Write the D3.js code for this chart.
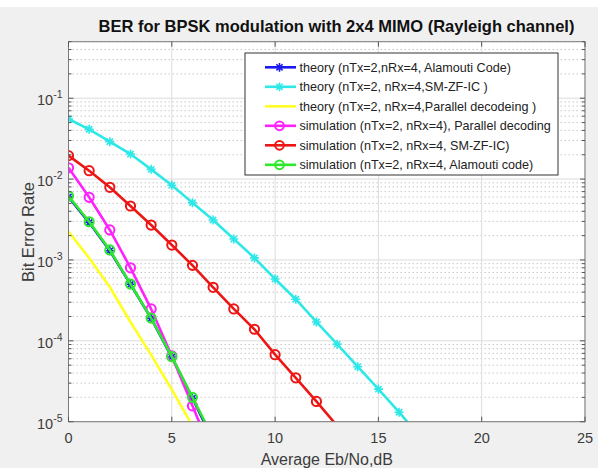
<!DOCTYPE html>
<html>
<head>
<meta charset="utf-8">
<script src="https://cdn.jsdelivr.net/npm/d3@7"></script>
<style>
  body { margin: 0; background: #f0f0f0; }
  svg { display: block; font-family: "Liberation Sans", Arial, sans-serif; }
</style>
</head>
<body>
<svg id="svg1" width="598" height="468"></svg>
<script>
// Eb/No points (dB)
var snrDb = [0, 1, 2, 3, 4, 5, 6, 7, 8, 9, 10, 11, 12, 13, 14, 15, 16, 17];

// BER curves, one value per dB starting at 0 dB
var theoryAlamouti = [0.0060, 0.0029, 0.00130, 5.0e-4, 1.9e-4, 6.3e-5, 1.95e-5, 5.8e-6];
var theoryZf = [0.0553, 0.0413, 0.0290, 0.0204, 0.0132, 0.00838, 0.00511, 0.00312, 0.00182,
    0.00106, 5.82e-4, 3.27e-4, 1.71e-4, 9.1e-5, 4.79e-5, 2.53e-5, 1.31e-5, 6.6e-6];
var theoryParallel = [2.24e-3, 1.06e-3, 4.63e-4, 1.71e-4, 6.7e-5, 2.5e-5, 8.9e-6];
var simParallel = [0.0138, 0.00595, 0.00235, 8.0e-4, 2.48e-4, 6.5e-5, 1.57e-5, 3.8e-6];
var simZf = [0.0195, 0.0127, 0.00792, 0.00465, 0.0027, 0.00153, 8.58e-4, 4.59e-4, 2.48e-4,
    1.39e-4, 6.74e-5, 3.49e-5, 1.78e-5, 8.9e-6];
var simAlamouti = [0.00618, 0.00297, 0.00133, 5.04e-4, 1.91e-4, 6.37e-5, 2.0e-5, 6.3e-6];

var legendLabels = [
    "theory (nTx=2,nRx=4, Alamouti Code)",
    "theory (nTx=2, nRx=4,SM-ZF-IC )",
    "theory (nTx=2, nRx=4,Parallel decodeing )",
    "simulation (nTx=2, nRx=4), Parallel decoding",
    "simulation (nTx=2, nRx=4, SM-ZF-IC)",
    "simulation (nTx=2, nRx=4, Alamouti code)"
];
var xTicks = [0, 5, 10, 15, 20, 25];
var yDecades = [1e-5, 1e-4, 1e-3, 1e-2, 1e-1];
var yExponents = ["-5", "-4", "-3", "-2", "-1"];

var series = [
    {name: legendLabels[0], values: theoryAlamouti, color: "#1a1aee", marker: "star"},
    {name: legendLabels[1], values: theoryZf, color: "#2ee8e8", marker: "star"},
    {name: legendLabels[2], values: theoryParallel, color: "#ffff22", marker: "none"},
    {name: legendLabels[3], values: simParallel, color: "#ff22ff", marker: "circle"},
    {name: legendLabels[4], values: simZf, color: "#ee1515", marker: "circle"},
    {name: legendLabels[5], values: simAlamouti, color: "#2ee82e", marker: "circle"}
];

var svg1 = d3.select("#svg1"),
    margin = {top: 41.7, right: 13, bottom: 46.3, left: 68.5},
    width = +svg1.attr("width") - margin.left - margin.right,
    height = +svg1.attr("height") - margin.top - margin.bottom;

svg1.append("rect")
    .attr("width", 598)
    .attr("height", 7)
    .attr("fill", "#fff");

var g = svg1
    .append("g")
    .attr("transform", "translate(" + margin.left + "," + margin.top + ")");

var x = d3.scaleLinear().domain([0, 25]).range([0, width]);
var y = d3.scaleLog().domain([1e-5, 0.5]).range([height, 0]);

g.append("rect")
    .attr("width", width)
    .attr("height", height)
    .attr("fill", "#fff");

g.append("clipPath")
    .attr("id", "plotclip")
    .append("rect")
    .attr("width", width)
    .attr("height", height);

// minor y grid (dotted)
var minorVals = [];
for (var e = -5; e <= -1; e++) {
    for (var m = 2; m <= 9; m++) {
        var v = m * Math.pow(10, e);
        if (v <= 0.5) minorVals.push(v);
    }
}
g.append("g")
    .selectAll("line")
    .data(minorVals)
    .enter()
    .append("line")
    .attr("x1", 0)
    .attr("x2", width)
    .attr("y1", function (d) { return y(d); })
    .attr("y2", function (d) { return y(d); })
    .attr("stroke", "#c8c8c8")
    .attr("stroke-width", 1)
    .attr("stroke-dasharray", "1.5,2.5");

// major grid
g.append("g")
    .selectAll("line")
    .data(yDecades)
    .enter()
    .append("line")
    .attr("x1", 0)
    .attr("x2", width)
    .attr("y1", function (d) { return y(d); })
    .attr("y2", function (d) { return y(d); })
    .attr("stroke", "#dcdcdc");

g.append("g")
    .selectAll("line")
    .data(xTicks)
    .enter()
    .append("line")
    .attr("x1", function (d) { return x(d); })
    .attr("x2", function (d) { return x(d); })
    .attr("y1", 0)
    .attr("y2", height)
    .attr("stroke", "#dcdcdc");

// curves
var line = d3.line()
    .x(function (d, i) { return x(snrDb[i]); })
    .y(function (d) { return y(d); });

var curves = g.append("g").attr("clip-path", "url(#plotclip)");

function drawMarker(sel, kind, color, size) {
    if (kind === "circle") {
        sel.append("circle")
            .attr("r", size)
            .attr("fill", "none")
            .attr("stroke", color)
            .attr("stroke-width", 2);
    } else if (kind === "star") {
        var s = size;
        var d = s * 0.7;
        sel.append("path")
            .attr("d", "M" + (-s) + ",0H" + s + "M0," + (-s) + "V" + s +
                "M" + (-d) + "," + (-d) + "L" + d + "," + d +
                "M" + (-d) + "," + d + "L" + d + "," + (-d))
            .attr("stroke", color)
            .attr("stroke-width", 1.6)
            .attr("fill", "none");
    }
}

series.forEach(function (s) {
    curves.append("path")
        .datum(s.values)
        .attr("fill", "none")
        .attr("stroke", s.color)
        .attr("stroke-width", 2.6)
        .attr("d", line);

    if (s.marker !== "none") {
        curves.append("g")
            .selectAll("g")
            .data(s.values.filter(function (v) { return v >= 1e-5; }))
            .enter()
            .append("g")
            .attr("transform", function (d, i) {
                return "translate(" + x(snrDb[i]) + "," + y(d) + ")";
            })
            .each(function () {
                drawMarker(d3.select(this), s.marker, s.color, s.marker === "circle" ? 4.6 : 4.5);
            });
    }
});

// axes box and ticks
var axisColor = "#3c3c3c";
g.append("rect")
    .attr("width", width)
    .attr("height", height)
    .attr("fill", "none")
    .attr("stroke", "#7a7a7a")
    .attr("stroke-width", 1);

var tickG = g.append("g").attr("stroke", "#555");
xTicks.forEach(function (t) {
    tickG.append("line").attr("x1", x(t)).attr("x2", x(t)).attr("y1", height).attr("y2", height - 5);
    tickG.append("line").attr("x1", x(t)).attr("x2", x(t)).attr("y1", 0).attr("y2", 5);
});
yDecades.forEach(function (t) {
    tickG.append("line").attr("x1", 0).attr("x2", 5).attr("y1", y(t)).attr("y2", y(t));
    tickG.append("line").attr("x1", width).attr("x2", width - 5).attr("y1", y(t)).attr("y2", y(t));
});
minorVals.forEach(function (t) {
    tickG.append("line").attr("x1", 0).attr("x2", 3).attr("y1", y(t)).attr("y2", y(t));
    tickG.append("line").attr("x1", width).attr("x2", width - 3).attr("y1", y(t)).attr("y2", y(t));
});

g.append("g")
    .selectAll("text")
    .data(xTicks)
    .enter()
    .append("text")
    .attr("x", function (d) { return x(d); })
    .attr("y", height + 21)
    .attr("text-anchor", "middle")
    .attr("font-size", 14.5)
    .attr("fill", axisColor)
    .text(function (d) { return d; });

var yLab = g.append("g")
    .selectAll("text")
    .data(yDecades)
    .enter()
    .append("text")
    .attr("x", -6)
    .attr("y", function (d) { return y(d) + 7; })
    .attr("text-anchor", "end")
    .attr("font-size", 14.5)
    .attr("fill", axisColor);
yLab.append("tspan").text("10");
yLab.append("tspan")
    .attr("dy", -7)
    .attr("font-size", 10.5)
    .text(function (d, i) { return yExponents[i]; });

svg1.append("text")
    .attr("x", 326.8)
    .attr("y", 465)
    .attr("text-anchor", "middle")
    .attr("font-size", 16)
    .attr("fill", axisColor)
    .text("Average Eb/No,dB");

svg1.append("text")
    .attr("transform", "translate(34,232) rotate(-90)")
    .attr("text-anchor", "middle")
    .attr("font-size", 16.5)
    .attr("fill", axisColor)
    .text("Bit Error Rate");

svg1.append("text")
    .attr("x", 336.5)
    .attr("y", 32)
    .attr("text-anchor", "middle")
    .attr("font-size", 16.5)
    .attr("font-weight", "bold")
    .attr("fill", "#111")
    .text("BER for BPSK modulation with 2x4 MIMO (Rayleigh channel)");

// legend
var legend = svg1.append("g").attr("transform", "translate(245,53)");
legend.append("rect")
    .attr("width", 313)
    .attr("height", 122)
    .attr("fill", "#fff")
    .attr("stroke", "#333")
    .attr("stroke-width", 1);

var item = legend.selectAll("g.item")
    .data(series)
    .enter()
    .append("g")
    .attr("class", "item")
    .attr("transform", function (d, i) {
        return "translate(0," + (14.3 + i * 19.5) + ")";
    });

item.append("line")
    .attr("x1", 20)
    .attr("x2", 51)
    .attr("stroke", function (d) { return d.color; })
    .attr("stroke-width", 2.6);

item.each(function (d) {
    var mk = d3.select(this).append("g").attr("transform", "translate(34.5,0)");
    drawMarker(mk, d.marker, d.color, 4.4);
});

item.append("text")
    .attr("x", 54.5)
    .attr("y", 4.5)
    .attr("font-size", 12.6)
    .attr("fill", "#222")
    .text(function (d) { return d.name; });
</script>
</body>
</html>
